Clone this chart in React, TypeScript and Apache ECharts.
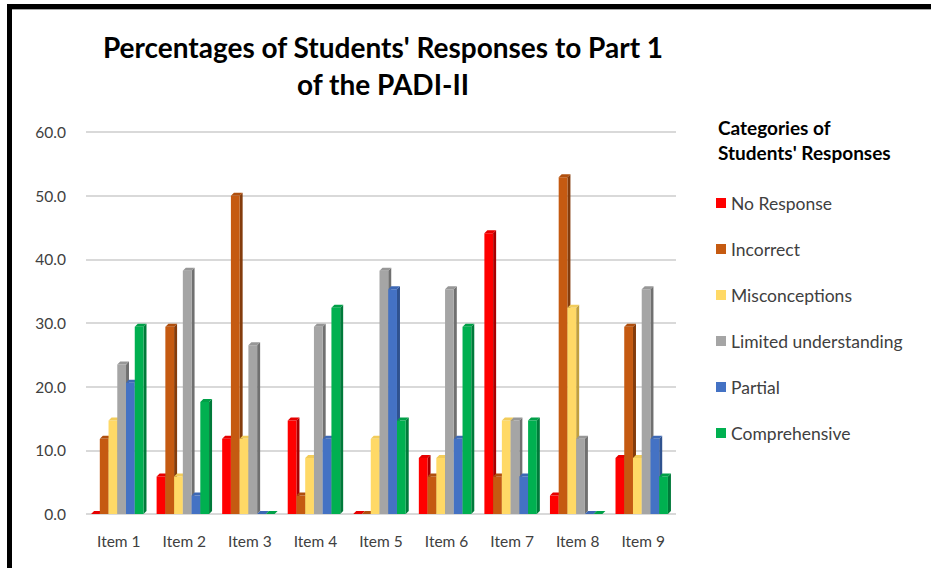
import React, { useEffect, useRef } from "react";
import * as echarts from "echarts";

const categories = ["Item 1", "Item 2", "Item 3", "Item 4", "Item 5", "Item 6", "Item 7", "Item 8", "Item 9"];
const seriesNames = ["No Response", "Incorrect", "Misconceptions", "Limited understanding", "Partial", "Comprehensive"];
const noResponse = [0, 5.9, 11.8, 14.7, 0, 8.8, 44.1, 2.9, 8.8];
const incorrect = [11.8, 29.4, 50.0, 2.9, 0, 5.9, 5.9, 52.9, 29.4];
const misconceptions = [14.7, 5.9, 11.8, 8.8, 11.8, 8.8, 14.7, 32.4, 8.8];
const limitedUnderstanding = [23.5, 38.2, 26.5, 29.4, 38.2, 35.3, 14.7, 11.8, 35.3];
const partial = [20.6, 2.9, 0, 11.8, 35.3, 11.8, 5.9, 0, 11.8];
const comprehensive = [29.4, 17.6, 0, 32.4, 14.7, 29.4, 14.7, 0, 5.9];
const yTicks = [0, 10, 20, 30, 40, 50, 60];

const seriesValues = [noResponse, incorrect, misconceptions, limitedUnderstanding, partial, comprehensive];
const colors = ["#FF0000", "#C55A11", "#FFD966", "#A5A5A5", "#4472C4", "#00B050"];
const sideColors = ["#A80000", "#843C0C", "#BF9F3F", "#707070", "#2F528F", "#007A3A"];
const topColors = ["#E60000", "#B04F0E", "#F2CC5A", "#979797", "#3D68B5", "#00A048"];

const FONT = "Lato, 'Open Sans', sans-serif";

export default function App() {
  const ref = useRef<HTMLDivElement>(null);
  useEffect(() => {
    if (!ref.current) return;
    const chart = echarts.init(ref.current, undefined, { renderer: "svg" });
    const series = seriesValues.map((vals, s) => ({
      type: "custom",
      name: seriesNames[s],
      itemStyle: { color: colors[s] },
      data: categories.map((_, i) => [i, vals[i]]),
      renderItem: (params: any, api: any) => {
        const idx = api.value(0);
        const val = api.value(1);
        const top = api.coord([idx, val]);
        const base = api.coord([idx, 0]);
        const band = api.size([1, 0])[0];
        const groupW = band * 0.8;
        const bw = groupW / 6;
        const d = 3;
        const x0 = top[0] - groupW / 2 - d / 2 + s * bw;
        const ty = top[1];
        const by = base[1];
        return {
          type: "group",
          children: [
            {
              type: "polygon",
              shape: { points: [[x0 + bw, ty], [x0 + bw + d, ty - d], [x0 + bw + d, by - d], [x0 + bw, by]] },
              style: { fill: sideColors[s] },
            },
            {
              type: "rect",
              shape: { x: x0, y: ty, width: bw, height: by - ty },
              style: { fill: colors[s] },
            },
            {
              type: "polygon",
              shape: { points: [[x0, ty], [x0 + d, ty - d], [x0 + bw + d, ty - d], [x0 + bw, ty]] },
              style: { fill: topColors[s] },
            },
          ],
        };
      },
    }));

    chart.setOption({
      animation: false,
      backgroundColor: "#ffffff",
      title: [
        {
          text: "Percentages of Students' Responses to Part 1\nof the PADI-II",
          left: 378,
          top: 23,
          textAlign: "center",
          textStyle: { fontFamily: FONT, fontWeight: "bold", fontSize: 28, lineHeight: 37, color: "#000000" },
        },
        {
          text: "Categories of\nStudents' Responses",
          left: 713,
          top: 110,
          textStyle: { fontFamily: FONT, fontWeight: "bold", fontSize: 19, lineHeight: 25, color: "#000000" },
        },
      ],
      legend: {
        data: seriesNames,
        orient: "vertical",
        left: 711,
        top: 189,
        itemWidth: 10,
        itemHeight: 10,
        itemGap: 28,
        icon: "rect",
        textStyle: { fontFamily: FONT, fontSize: 17.5, color: "#404040", lineHeight: 18 },
      },
      grid: { left: 86, right: 255, top: 132, bottom: 54 },
      xAxis: {
        type: "category",
        data: categories,
        axisLine: { show: false },
        axisTick: { show: false },
        axisLabel: { fontFamily: FONT, fontSize: 15.5, color: "#404040", margin: 19 },
      },
      yAxis: {
        type: "value",
        min: yTicks[0],
        max: yTicks[yTicks.length - 1],
        interval: 10,
        axisLine: { show: false },
        axisTick: { show: false },
        axisLabel: {
          fontFamily: FONT,
          fontSize: 15.5,
          color: "#404040",
          margin: 20,
          formatter: (v: number) => v.toFixed(1),
        },
        splitLine: { lineStyle: { color: "#d9d9d9", width: 2 } },
      },
      graphic: [
        { type: "rect", shape: { x: 7, y: 4, width: 924, height: 5 }, style: { fill: "#000000" }, z: 100 },
        { type: "rect", shape: { x: 7, y: 4, width: 5, height: 564 }, style: { fill: "#000000" }, z: 100 },
        { type: "rect", shape: { x: 12, y: 9, width: 919, height: 1 }, style: { fill: "#a6a6a6" }, z: 100 },
      ],
      series,
    });
    return () => chart.dispose();
  }, []);
  return <div ref={ref} style={{ position: "absolute", left: 0, top: 0, width: 931, height: 568 }} />;
}
